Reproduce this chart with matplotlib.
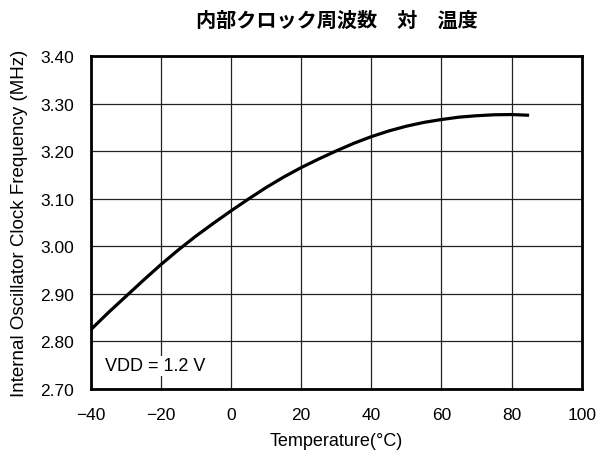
import matplotlib.pyplot as plt

plt.rcParams['font.family'] = ['Liberation Sans', 'DejaVu Sans']

# values
temps = [-40, -35, -30, -25, -20, -15, -10, -5, 0, 5, 10, 15, 20, 25, 30, 35,
         40, 45, 50, 55, 60, 65, 70, 75, 80, 85]
freq = [2.825, 2.861, 2.895, 2.929, 2.962, 2.993, 3.022, 3.049, 3.075, 3.100,
        3.124, 3.146, 3.166, 3.184, 3.201, 3.217, 3.231, 3.243, 3.253, 3.261,
        3.267, 3.272, 3.275, 3.277, 3.2775, 3.276]

xticks = [-40, -20, 0, 20, 40, 60, 80, 100]
yticks = [2.70, 2.80, 2.90, 3.00, 3.10, 3.20, 3.30, 3.40]

fig = plt.figure(figsize=(5.98, 4.56), dpi=100)
ax = fig.add_axes([0.152, 0.1447, 0.8207, 0.7296])

ax.plot(temps, freq, color='black', linewidth=2.3, solid_capstyle='butt', zorder=3)

ax.set_xlim(-40, 100)
ax.set_ylim(2.70, 3.40)
ax.set_xticks(xticks)
ax.set_yticks(yticks)
ax.set_yticklabels(['%.2f' % v for v in yticks])
ax.tick_params(length=0, labelsize=12.5)
ax.tick_params(axis='x', pad=13)
ax.tick_params(axis='y', pad=12)
ax.grid(True, color='#222222', linewidth=0.9)
ax.set_axisbelow(True)
for s in ax.spines.values():
    s.set_linewidth(2.0)

ax.set_xlabel('Temperature(°C)', fontsize=13, labelpad=7)
ax.set_ylabel('Internal Oscillator Clock Frequency (MHz)', fontsize=13.5, labelpad=9)

ax.text(-36, 2.749, 'VDD = 1.2 V', fontsize=13, va='center', ha='left',
        bbox=dict(facecolor='white', edgecolor='none', pad=1), zorder=4)

fig.text(0.563, 0.955, '内部クロック周波数　対　温度', ha='center', va='center',
         fontsize=14.5, fontweight='bold', family=['Noto Sans CJK JP', 'DejaVu Sans'])

fig.savefig('out.png', dpi=100)
